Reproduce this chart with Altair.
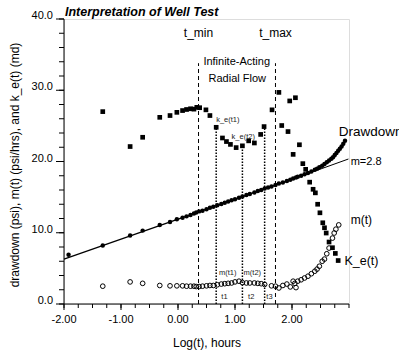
import altair as alt
import pandas as pd

FONT = "Liberation Sans"

# ---- data ----
dd_logt = [-1.92, -1.32, -0.84, -0.62, -0.32, -0.14, -0.02, 0.08, 0.15, 0.22, 0.28, 0.32, 0.37,
           0.43, 0.50, 0.56, 0.62, 0.69, 0.76, 0.82, 0.88, 0.94, 1.00, 1.07, 1.13, 1.20, 1.26,
           1.34, 1.40, 1.46, 1.52, 1.58, 1.64, 1.71, 1.77, 1.84, 1.91, 1.97, 2.02, 2.07, 2.10,
           2.16, 2.22, 2.28, 2.34, 2.40, 2.44, 2.48, 2.53, 2.57, 2.61, 2.65, 2.69, 2.72, 2.75,
           2.78, 2.81, 2.84, 2.87, 2.90, 2.93]
dd_val = [6.9, 8.2, 9.6, 10.3, 11.1, 11.5, 11.9, 12.1, 12.3, 12.5, 12.7, 12.85, 13.0,
          13.1, 13.3, 13.5, 13.65, 13.85, 14.05, 14.2, 14.4, 14.55, 14.7, 14.9, 15.1, 15.3, 15.45,
          15.65, 15.85, 16.0, 16.2, 16.35, 16.5, 16.7, 16.9, 17.05, 17.25, 17.45, 17.6, 17.75, 17.85,
          18.0, 18.2, 18.4, 18.6, 18.85, 19.0, 19.2, 19.4, 19.65, 19.9, 20.15, 20.4, 20.6, 20.9,
          21.2, 21.5, 21.8, 22.1, 22.5, 22.9]

m_logt = [-1.32, -0.84, -0.62, -0.32, -0.14, -0.02, 0.08, 0.15, 0.22, 0.28, 0.32, 0.37, 0.43,
          0.50, 0.56, 0.62, 0.69, 0.76, 0.82, 0.88, 0.94, 1.00, 1.07, 1.13, 1.20, 1.26, 1.34,
          1.40, 1.46, 1.52, 1.64, 1.71, 1.77, 1.84, 1.91, 1.97, 2.02, 2.05, 2.07, 2.10, 2.16,
          2.22, 2.28, 2.34, 2.40, 2.44, 2.48, 2.53, 2.57, 2.61, 2.65, 2.71, 2.74, 2.77, 2.82]
m_val = [2.5, 3.1, 2.9, 2.6, 2.55, 2.55, 2.55, 2.5, 2.5, 2.5, 2.45, 2.45, 2.5,
         2.55, 2.6, 2.6, 2.7, 2.8, 2.85, 2.9, 2.95, 3.1, 3.2, 3.0, 2.95, 2.95, 2.95,
         2.9, 2.85, 2.75, 2.55, 2.5, 2.25, 2.6, 2.8, 2.4, 3.2, 2.9, 2.3, 3.2, 3.4,
         3.65, 3.9, 4.25, 4.6, 4.9, 5.3, 6.0, 6.3, 7.05, 7.85, 9.25, 9.96, 10.5, 11.1]

ke_logt = [-1.32, -0.84, -0.62, -0.32, -0.14, -0.02, 0.08, 0.15, 0.22, 0.28, 0.33, 0.38, 0.49,
           0.56, 0.67, 0.78, 0.85, 0.92, 1.02, 1.13, 1.24, 1.34, 1.45, 1.51, 1.65, 1.77, 1.82,
           1.93, 1.96, 2.02, 2.06, 2.13, 2.19, 2.24, 2.31, 2.37, 2.41, 2.45, 2.49, 2.54, 2.57,
           2.60, 2.65, 2.71, 2.76, 2.81]
ke_val = [27.0, 22.1, 23.4, 26.2, 26.45, 26.9, 27.15, 27.3, 27.4, 27.35, 27.6, 27.55, 27.25,
          26.45, 24.8, 23.3, 22.8, 22.4, 21.95, 22.2, 22.9, 22.6, 23.8, 24.9, 27.25, 29.7, 25.05,
          24.2, 28.5, 21.0, 28.95, 22.35, 19.7, 18.9, 17.1, 16.1, 15.6, 14.0, 12.8, 11.4, 10.7,
          9.96, 8.7, 7.9, 7.1, 6.1]

# semilog straight line (m = 2.8) and its label leader
reg_logt = [-2.0, 2.33]
reg_val = [6.3, 18.45]
lead_logt = [2.33, 2.99]
lead_val = [18.45, 20.35]

# t_min / t_max dashed markers
dash_logt = [0.36, 1.71]
dash_top = [33.8, 33.8]
# t1, t2, t3 dotted markers
dot_logt = [0.67, 1.13, 1.52]
dot_top = [24.8, 22.0, 24.9]

# annotations
big_text = ["t_min", "t_max", "Infinite-Acting", "Radial Flow"]
big_x = [0.36, 1.71, 1.03, 1.04]
big_y = [38.05, 38.05, 34.0, 31.6]
big_size = [12, 12, 11, 11]

side_text = ["Drawdown", "m=2.8", "m(t)", "K_e(t)"]
side_x = [2.82, 3.03, 3.03, 2.92]
side_y = [24.1, 19.95, 11.8, 5.97]
side_size = [13.5, 11, 12, 12.5]

small_text = ["k_e(t1)", "k_e(t2)", "m(t1)", "m(t2)", "t1", "t2", "t3"]
small_x = [0.67, 0.94, 0.72, 1.15, 0.76, 1.23, 1.55]
small_y = [25.85, 23.5, 4.35, 4.35, 1.05, 1.05, 1.05]

# axes: tick positions and tick labels
x_major = [-2, -1, 0, 1, 2]
x_labels = ["-2.00", "-1.00", "0.00", "1.00", "2.00"]
x_minor = [-2 + 0.25 * i for i in range(21)]
y_major = [0, 10, 20, 30, 40]
y_labels = ["0.0", "10.0", "20.0", "30.0", "40.0"]
y_minor = [2 * i for i in range(21)]
x_domain = [-2, 3]
y_domain = [0, 40]

title_text = "Interpretation of Well Test"
x_title = "Log(t), hours"
y_title = "drawdown (psi), m(t) (psi/hrs), and k_e(t) (md)"

# ---- frames ----
dd_df = pd.DataFrame({"x": dd_logt, "y": dd_val})
m_df = pd.DataFrame({"x": m_logt, "y": m_val})
ke_df = pd.DataFrame({"x": ke_logt, "y": ke_val})
reg_df = pd.DataFrame({"x": reg_logt, "y": reg_val})
lead_df = pd.DataFrame({"x": lead_logt, "y": lead_val})
dash_df = pd.DataFrame({"x": dash_logt, "y": [0.0] * len(dash_logt), "y2": dash_top})
dot_df = pd.DataFrame({"x": dot_logt, "y": [0.0] * len(dot_logt), "y2": dot_top})
big_df = pd.DataFrame({"t": big_text, "x": big_x, "y": big_y, "s": big_size})
side_df = pd.DataFrame({"t": side_text, "x": side_x, "y": side_y, "s": side_size})
small_df = pd.DataFrame({"t": small_text, "x": small_x, "y": small_y})
xmaj_df = pd.DataFrame({"x": x_major, "t": x_labels})
xmin_df = pd.DataFrame({"x": x_minor})
ymaj_df = pd.DataFrame({"y": y_major, "t": y_labels})
ymin_df = pd.DataFrame({"y": y_minor})
xdom_df = pd.DataFrame({"x": [x_domain[0]], "x2": [x_domain[1]], "y": [y_domain[0]]})
ydom_df = pd.DataFrame({"x": [x_domain[0]], "y": [y_domain[0]], "y2": [y_domain[1]]})
title_df = pd.DataFrame({"t": [title_text]})
xt_df = pd.DataFrame({"t": [x_title]})
yt_df = pd.DataFrame({"t": [y_title]})

W, H = 285, 285
xscale = alt.Scale(domain=x_domain, nice=False, zero=False)
yscale = alt.Scale(domain=y_domain, nice=False, zero=False)

Xn = alt.X("x:Q", scale=xscale, axis=None)
Yn = alt.Y("y:Q", scale=yscale, axis=None)

# axis lines, ticks and labels
x_line = alt.Chart(xdom_df).mark_rule(color="black", strokeWidth=1).encode(x=Xn, x2="x2:Q", y=Yn)
y_line = alt.Chart(ydom_df).mark_rule(color="black", strokeWidth=1).encode(x=Xn, y=Yn, y2="y2:Q")
xt_major = alt.Chart(xmaj_df).mark_tick(color="black", thickness=1, size=6, opacity=1).encode(
    x=Xn, y=alt.value(H + 3))
xt_minor = alt.Chart(xmin_df).mark_tick(color="black", thickness=1, size=4, opacity=1).encode(
    x=Xn, y=alt.value(H + 2))
yt_major = alt.Chart(ymaj_df).mark_tick(color="black", thickness=1, size=8, opacity=1).encode(
    y=Yn, x=alt.value(-4))
yt_minor = alt.Chart(ymin_df).mark_tick(color="black", thickness=1, size=5, opacity=1).encode(
    y=Yn, x=alt.value(-2.5))
x_lab = alt.Chart(xmaj_df).mark_text(font=FONT, fontSize=11, color="black", align="center",
                                     baseline="middle").encode(x=Xn, y=alt.value(H + 16), text="t:N")
y_lab = alt.Chart(ymaj_df).mark_text(font=FONT, fontSize=11, color="black", align="right",
                                     baseline="alphabetic").encode(y=Yn, x=alt.value(-11), text="t:N")
x_tit = alt.Chart(xt_df).mark_text(font=FONT, fontSize=12, color="black", align="center",
                                   baseline="middle").encode(x=alt.value(143), y=alt.value(H + 39), text="t:N")
y_tit = alt.Chart(yt_df).mark_text(font=FONT, fontSize=12, color="black", align="center",
                                   baseline="middle", angle=270).encode(x=alt.value(-49), y=alt.value(146), text="t:N")
main_tit = alt.Chart(title_df).mark_text(font=FONT, fontSize=12.5, fontStyle="italic",
                                         fontWeight="bold", color="black", align="left",
                                         baseline="middle").encode(x=alt.value(1), y=alt.value(-7), text="t:N")

# data layers
reg = alt.Chart(reg_df).mark_line(color="black", strokeWidth=1.3).encode(x=Xn, y=Yn)
lead = alt.Chart(lead_df).mark_line(color="black", strokeWidth=1).encode(x=Xn, y=Yn)
dash = alt.Chart(dash_df).mark_rule(color="black", strokeWidth=1, strokeDash=[4, 3]).encode(
    x=Xn, y=Yn, y2="y2:Q")
dot = alt.Chart(dot_df).mark_rule(color="black", strokeWidth=1.5, strokeDash=[1.5, 1.5]).encode(
    x=Xn, y=Yn, y2="y2:Q")
dd = alt.Chart(dd_df).mark_point(shape="circle", filled=True, color="black", size=20, opacity=1).encode(x=Xn, y=Yn)
mm = alt.Chart(m_df).mark_point(shape="circle", filled=False, color="black", size=22, strokeWidth=1, opacity=1).encode(x=Xn, y=Yn)
ke = alt.Chart(ke_df).mark_point(shape="square", filled=True, color="black", size=22, opacity=1).encode(x=Xn, y=Yn)

big = alt.Chart(big_df).mark_text(font=FONT, color="black", align="center", baseline="middle").encode(
    x=Xn, y=Yn, text="t:N", size=alt.Size("s:Q", scale=None))
side = alt.Chart(side_df).mark_text(font=FONT, color="black", align="left", baseline="middle").encode(
    x=Xn, y=Yn, text="t:N", size=alt.Size("s:Q", scale=None))
small = alt.Chart(small_df).mark_text(font=FONT, color="#222222", align="left", baseline="middle", fontSize=7.5).encode(
    x=Xn, y=Yn, text="t:N")

chart = alt.layer(x_line, y_line, xt_major, xt_minor, yt_major, yt_minor, x_lab, y_lab,
                  x_tit, y_tit, main_tit,
                  reg, lead, dash, dot, mm, dd, ke, big, side, small).properties(
    width=W, height=H,
    autosize=alt.AutoSizeParams(type="none"),
    padding={"left": 64, "top": 19, "right": 50, "bottom": 52},
).configure_view(strokeWidth=0).configure(background="white")

chart.save("out.html", embed_options={"renderer": "svg", "actions": False})
